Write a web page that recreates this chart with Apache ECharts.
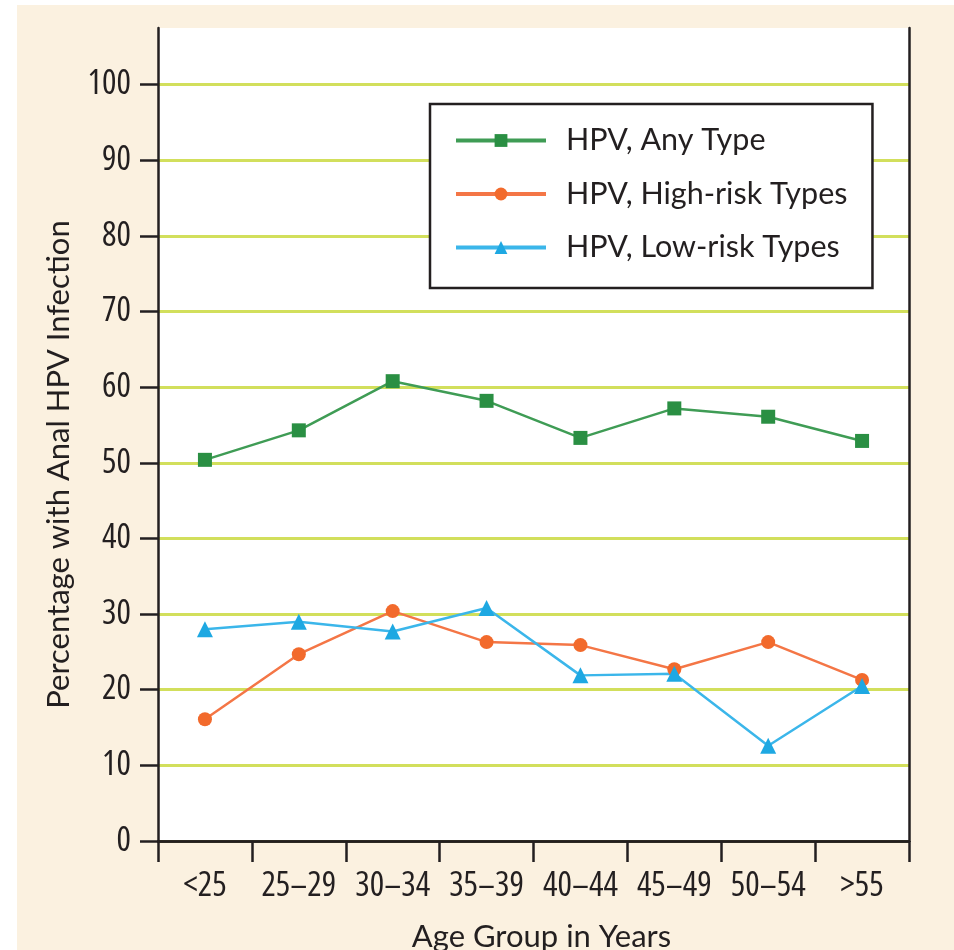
<!DOCTYPE html>
<html>
<head>
<meta charset="utf-8">
<script src="https://cdn.jsdelivr.net/npm/echarts@6/dist/echarts.min.js"></script>
<style>
html,body{margin:0;padding:0;background:#ffffff;width:954px;height:950px;overflow:hidden;}
#chart{position:absolute;left:17px;top:5px;width:937px;height:945px;}
</style>
</head>
<body>
<div id="chart"></div>
<script>
const categories = ['<25', '25\u201329', '30\u201334', '35\u201339', '40\u201344', '45\u201349', '50\u201354', '>55'];
const anyType = [50.4, 54.3, 60.8, 58.2, 53.3, 57.2, 56.1, 52.9];
const highRisk = [16.1, 24.7, 30.4, 26.3, 25.9, 22.7, 26.3, 21.3];
const lowRisk = [28.0, 29.0, 27.7, 30.8, 21.9, 22.1, 12.6, 20.5];
const yTicks = [0, 10, 20, 30, 40, 50, 60, 70, 80, 90, 100];
const seriesNames = ['HPV, Any Type', 'HPV, High-risk Types', 'HPV, Low-risk Types'];

const ink = '#231f20';
const body = 'Lato, "Open Sans", sans-serif';
const cond = '"Open Sans", "Liberation Sans", sans-serif';

const chart = echarts.init(document.getElementById('chart'), null, {renderer: 'canvas'});
chart.setOption({
  backgroundColor: '#fbf1e0',
  animation: false,
  grid: {left: 141, right: 45, top: 23, bottom: 109, show: true, backgroundColor: '#ffffff', borderWidth: 0, outerBoundsMode: 'none', containLabel: false},
  legend: {
    left: 413, top: 99,
    orient: 'vertical',
    backgroundColor: '#ffffff',
    borderColor: ink, borderWidth: 2.5,
    padding: [21, 25, 25, 24],
    itemWidth: 90, itemHeight: 16, itemGap: 22.5,
    textStyle: {fontFamily: body, fontSize: 30.5, color: ink, lineHeight: 30, padding: [0, 0, 0, 15]},
    lineStyle: {width: 4},
    data: seriesNames
  },
  xAxis: [{
    type: 'category', data: categories, boundaryGap: true,
    axisLine: {lineStyle: {color: ink, width: 2.5}},
    axisTick: {show: true, inside: false, length: 21, lineStyle: {color: ink, width: 2.5}},
    axisLabel: {fontFamily: cond, fontWeight: 'condensed', fontSize: 34, color: ink, margin: 28, interval: 0},
    name: 'Age Group in Years', nameLocation: 'middle', nameGap: 80, nameMoveOverlap: false,
    nameTextStyle: {fontFamily: body, fontSize: 31, color: ink, verticalAlign: 'top', padding: [0, 0, 0, 16]},
    splitLine: {show: false}
  }, {
    type: 'category', data: categories, position: 'top', boundaryGap: true, z: 10,
    axisLine: {lineStyle: {color: ink, width: 2.5}},
    axisTick: {show: false}, axisLabel: {show: false}, splitLine: {show: false}
  }],
  yAxis: [{
    type: 'value', min: 0, max: 107.5, interval: 10,
    axisLine: {show: true, lineStyle: {color: ink, width: 2.5}},
    axisTick: {show: true, inside: false, length: 18, customValues: yTicks, lineStyle: {color: ink, width: 2.5}},
    axisLabel: {fontFamily: cond, fontWeight: 'condensed', fontSize: 34, color: ink, margin: 27, customValues: yTicks},
    splitLine: {show: true, lineStyle: {color: '#d2df5c', width: 3}},
    name: 'Percentage with Anal HPV Infection', nameLocation: 'middle', nameGap: 84, nameMoveOverlap: false,
    nameTextStyle: {fontFamily: body, fontSize: 31, color: ink, padding: [0, 60, 0, 0]}
  }, {
    type: 'value', min: 0, max: 107.5, position: 'right', z: 10,
    axisLine: {show: true, lineStyle: {color: ink, width: 2.5}},
    axisTick: {show: false}, axisLabel: {show: false}, splitLine: {show: false}
  }],
  series: [{
    name: seriesNames[0], type: 'line', data: anyType,
    symbol: 'rect', symbolSize: 14,
    itemStyle: {color: '#2a8f43'},
    lineStyle: {color: '#3f9c55', width: 2.5}, z: 3
  }, {
    name: seriesNames[1], type: 'line', data: highRisk,
    symbol: 'circle', symbolSize: 14,
    itemStyle: {color: '#f26a2c'},
    lineStyle: {color: '#f47646', width: 2.5}, z: 3
  }, {
    name: seriesNames[2], type: 'line', data: lowRisk,
    symbol: 'triangle', symbolSize: 16,
    itemStyle: {color: '#1ea8e2'},
    lineStyle: {color: '#3bb6ea', width: 2.5}, z: 3
  }]
});
</script>
</body>
</html>
